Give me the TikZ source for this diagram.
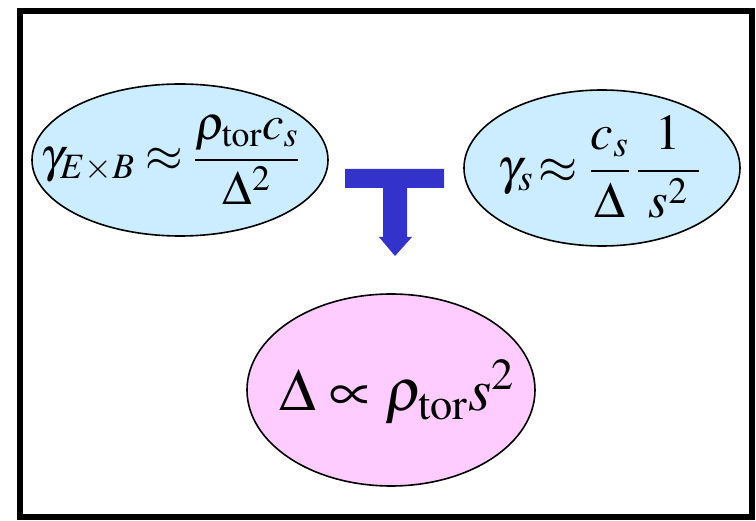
\documentclass[tikz,border=0pt]{standalone}
\usepackage{amsmath}
\usepackage{graphicx}
\usepackage{mathptmx}
\usetikzlibrary{shapes.geometric}
\definecolor{lblue}{HTML}{CCECFF}
\definecolor{lpink}{HTML}{FFCCFF}
\definecolor{arrowblue}{HTML}{3333CC}
\tikzset{
  bubble/.style={ellipse, draw=black, line width=1.6pt, inner sep=0pt},
  formula/.style={inner sep=0pt},
}
\begin{document}
\begin{tikzpicture}[x=1pt,y=-1pt]
\useasboundingbox (0,0) rectangle (756,521);
\draw[line width=6pt] (19.5,11) rectangle (751.5,517);
% ellipses
\node[bubble, fill=lblue, minimum width=296pt, minimum height=152pt] (exb) at (180,160) {};
\node[bubble, fill=lblue, minimum width=276pt, minimum height=156pt] (gs) at (602,168) {};
\node[bubble, fill=lpink, minimum width=288pt, minimum height=192pt] (res) at (391,390) {};
% formulas
\node[formula] (fexb) at (170,160) {\scalebox{1.34}{\fontsize{36}{40}\selectfont $\gamma_{E\times B}\approx\dfrac{\rho_{\mathrm{tor}}c_s}{\Delta^2}$}};
\node[formula] (fgs) at (599,167) {\scalebox{1.4}{\fontsize{36}{40}\selectfont $\gamma_s\!\approx\dfrac{c_s}{\Delta}\,\dfrac{1}{\;s^2\;}$}};
\node[formula] (fres) at (397,392) {\scalebox{1.36}{\fontsize{44}{48}\selectfont $\Delta\propto\rho_{\mathrm{tor}}s^2$}};
% T arrow
\fill[arrowblue] (345,169) -- (444,169) -- (444,188) -- (407,188) -- (407,237) -- (412,237) -- (395,256) -- (379,237) -- (383,237) -- (383,188) -- (345,188) -- cycle;
\end{tikzpicture}
\end{document}
